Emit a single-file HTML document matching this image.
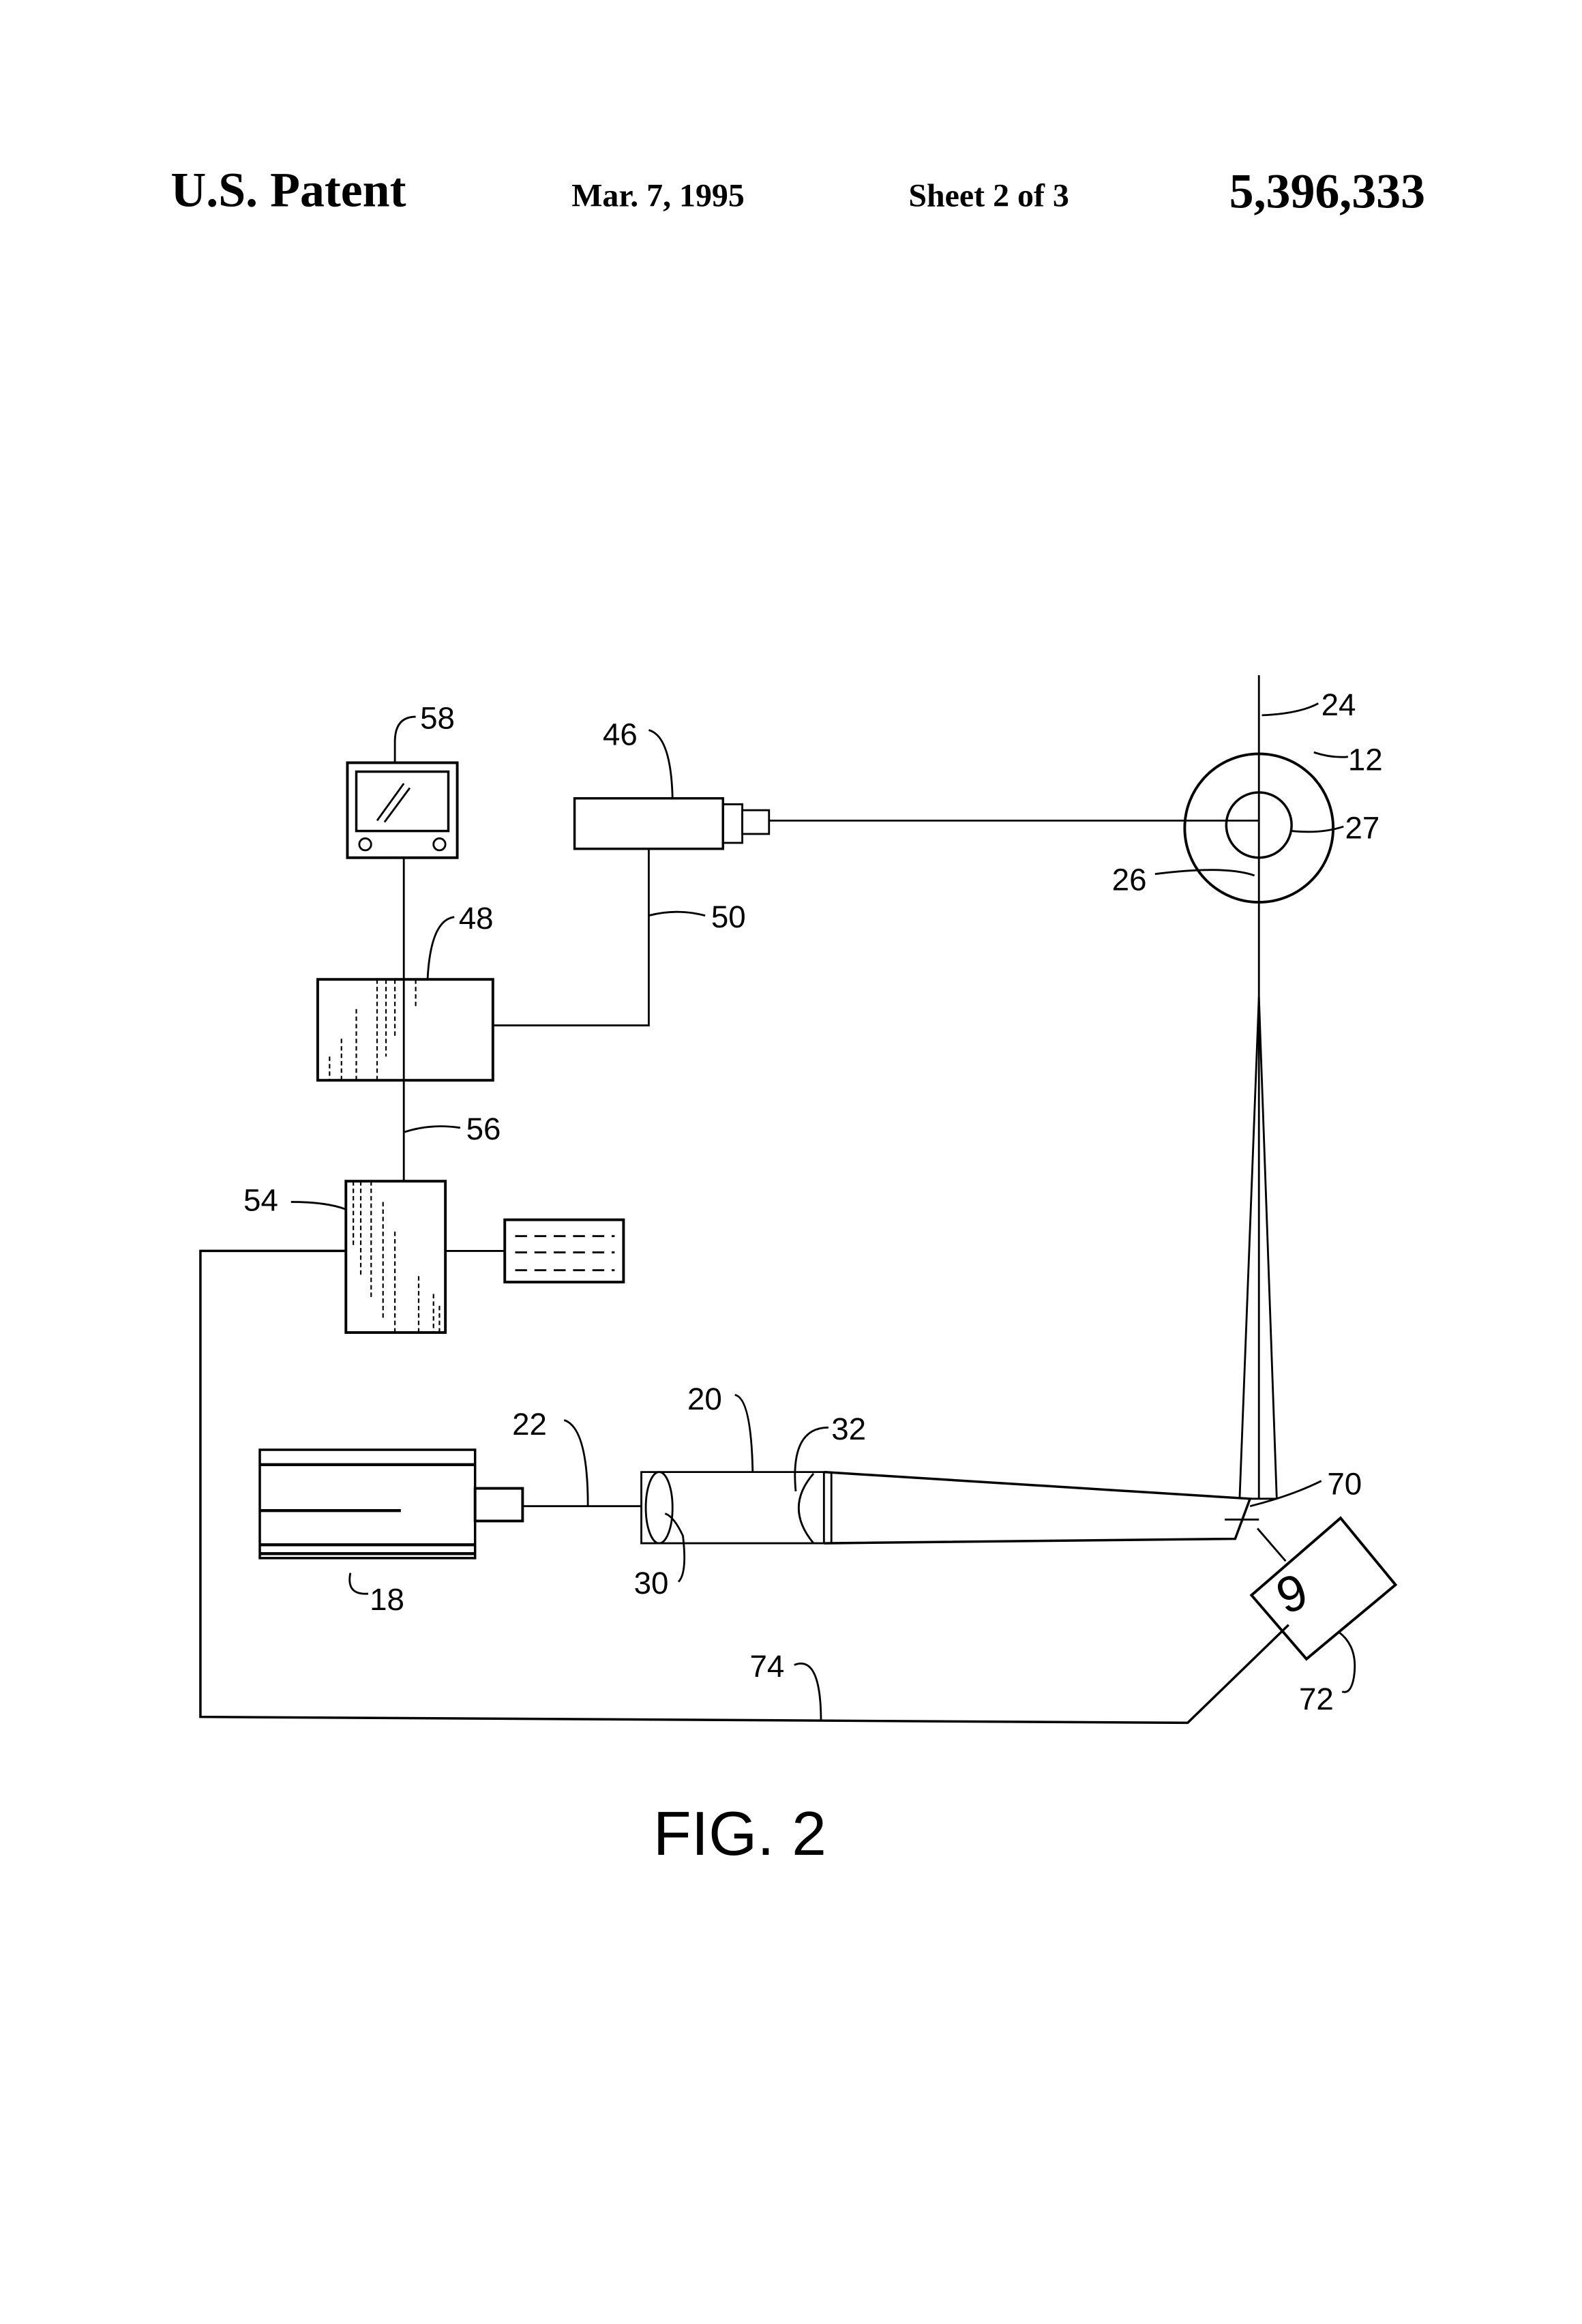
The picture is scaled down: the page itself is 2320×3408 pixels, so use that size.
<!DOCTYPE html>
<html><head><meta charset="utf-8"><style>
html,body{margin:0;padding:0;background:#fff}
svg{display:block}
</style></head><body>
<svg width="2320" height="3408" viewBox="0 0 1080 1586.5" xmlns="http://www.w3.org/2000/svg">
<rect width="1080" height="1586.5" fill="#fff"/>
<g transform="scale(1.0135 1.013)">
<g font-family="Liberation Serif, serif" font-weight="bold" fill="#000">
<text x="115" y="139" font-size="33">U.S. Patent</text>
<text x="385" y="139" font-size="22">Mar. 7, 1995</text>
<text x="612" y="139" font-size="22">Sheet 2 of 3</text>
<text x="828" y="140" font-size="33">5,396,333</text>
</g>
<g stroke="#000" stroke-width="1.3" fill="none">
<line x1="848" y1="455" x2="848" y2="1010"/>
<circle cx="848" cy="558" r="50" stroke-width="1.8"/>
<circle cx="848" cy="556" r="22" stroke-width="1.6"/>
<line x1="518" y1="553" x2="848" y2="553"/>
<rect x="387" y="538" width="100" height="34" stroke-width="1.6"/>
<rect x="487" y="542" width="13" height="26"/>
<rect x="500" y="546" width="18" height="16"/>
<polyline points="437,572 437,691 332,691"/>
<rect x="234" y="514" width="74" height="64" stroke-width="1.8"/>
<rect x="240" y="520" width="62" height="40" stroke-width="1.6"/>
<line x1="254" y1="553" x2="272" y2="528"/><line x1="259" y1="554" x2="276" y2="531"/>
<circle cx="246" cy="569" r="4"/><circle cx="296" cy="569" r="4"/>
<line x1="272" y1="578" x2="272" y2="796"/>
<rect x="214" y="660" width="118" height="68" stroke-width="1.8"/>
<g stroke-width="1" stroke-dasharray="3,2">
<line x1="254" y1="660" x2="254" y2="728"/><line x1="260" y1="660" x2="260" y2="712"/><line x1="266" y1="660" x2="266" y2="700"/><line x1="272" y1="660" x2="272" y2="690"/><line x1="280" y1="660" x2="280" y2="680"/><line x1="240" y1="680" x2="240" y2="728"/><line x1="230" y1="700" x2="230" y2="728"/><line x1="222" y1="712" x2="222" y2="728"/>
</g>
<rect x="233" y="796" width="67" height="102" stroke-width="1.8"/>
<g stroke-width="1" stroke-dasharray="3,2">
<line x1="238" y1="796" x2="238" y2="840"/><line x1="243" y1="796" x2="243" y2="860"/><line x1="250" y1="796" x2="250" y2="875"/><line x1="258" y1="810" x2="258" y2="890"/><line x1="266" y1="830" x2="266" y2="898"/><line x1="282" y1="860" x2="282" y2="898"/><line x1="292" y1="872" x2="292" y2="898"/><line x1="296" y1="880" x2="296" y2="898"/>
</g>
<line x1="300" y1="843" x2="340" y2="843"/>
<rect x="340" y="822" width="80" height="42" stroke-width="1.8"/>
<g stroke-dasharray="8,5"><line x1="347" y1="833" x2="414" y2="833"/><line x1="347" y1="844" x2="414" y2="844"/><line x1="347" y1="856" x2="414" y2="856"/></g>
<polyline points="233,843 135,843 135,1157 800,1161 868,1095" stroke-width="1.6"/>
<rect x="175" y="977" width="145" height="73" stroke-width="1.6"/>
<line x1="175" y1="987" x2="320" y2="987" stroke-width="2"/>
<line x1="175" y1="1018" x2="270" y2="1018" stroke-width="2"/>
<line x1="175" y1="1041" x2="320" y2="1041" stroke-width="2"/>
<line x1="175" y1="1047" x2="320" y2="1047" stroke-width="2"/>
<rect x="320" y="1003" width="32" height="22" stroke-width="1.8"/>
<line x1="352" y1="1015" x2="432" y2="1015"/>
<polyline points="555,992 432,992 432,1040 555,1040"/>
<line x1="555" y1="992" x2="555" y2="1040"/><line x1="560" y1="992" x2="560" y2="1040"/>
<path d="M555,992 L842,1010 L832,1037 L555,1040" stroke-width="1.6"/>
<ellipse cx="444" cy="1016" rx="9" ry="24"/>
<path d="M548,993 Q528,1016 548,1040"/>
<path d="M835,1010 L848,672 L860,1010"/>
<line x1="842" y1="1010" x2="860" y2="1010"/>
<line x1="825" y1="1024" x2="848" y2="1024"/>
<line x1="847" y1="1030" x2="866" y2="1052"/>
<polygon points="903,1023 940,1068 880,1118 843,1075" stroke-width="1.8"/>
<path d="M280,483 Q266,483 266,500 L266,514"/>
<path d="M437,492 Q452,496 453,538"/>
<path d="M850,482 Q875,481 888,474"/>
<path d="M885,507 Q897,511 908,510"/>
<path d="M870,560 Q890,562 905,557"/>
<path d="M778,589 Q825,583 845,590"/>
<path d="M306,618 Q290,620 288,660"/>
<path d="M437,617 Q456,612 475,617"/>
<path d="M272,763 Q290,757 310,760"/>
<path d="M196,810 Q220,810 233,815"/>
<path d="M380,957 Q396,962 396,1015"/>
<path d="M495,940 Q506,942 507,992"/>
<path d="M558,962 Q532,962 536,1005"/>
<path d="M842,1015 Q870,1008 890,998"/>
<path d="M236,1060 Q233,1075 248,1074"/>
<path d="M457,1066 Q463,1060 460,1035 Q454,1022 448,1020"/>
<path d="M535,1122 Q553,1115 553,1160"/>
<path d="M902,1100 Q915,1110 912,1130 Q910,1142 904,1140"/>
</g>
<g font-family="Liberation Sans, DejaVu Sans, sans-serif" font-size="21" fill="#000">
<text x="283" y="491">58</text>
<text x="406" y="502">46</text>
<text x="890" y="482">24</text>
<text x="908" y="519">12</text>
<text x="906" y="565">27</text>
<text x="749" y="600">26</text>
<text x="309" y="626">48</text>
<text x="479" y="625">50</text>
<text x="314" y="768">56</text>
<text x="164" y="816">54</text>
<text x="345" y="967">22</text>
<text x="463" y="950">20</text>
<text x="560" y="970">32</text>
<text x="894" y="1007">70</text>
<text x="249" y="1085">18</text>
<text x="427" y="1074">30</text>
<text x="505" y="1130">74</text>
<text x="875" y="1152">72</text>
<text x="860" y="1082" font-size="34" transform="rotate(-20 880 1070)">9</text>
<text x="440" y="1250" font-size="42">FIG. 2</text>
</g>
</g>
</svg>
</body></html>
